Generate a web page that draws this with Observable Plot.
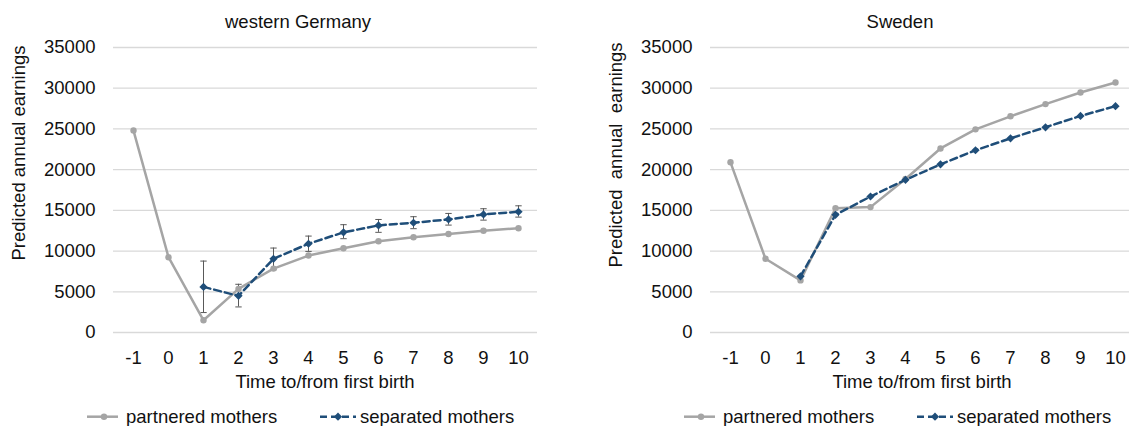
<!DOCTYPE html>
<html>
<head>
<meta charset="utf-8">
<script src="https://cdn.jsdelivr.net/npm/d3@7"></script>
<script src="https://cdn.jsdelivr.net/npm/@observablehq/plot@0.6"></script>
<style>
  html, body { margin: 0; padding: 0; background: #fff; }
  body { width: 1129px; height: 426px; overflow: hidden; position: relative;
         font-family: "Liberation Sans", Arial, sans-serif; }
  .panel { position: absolute; top: 0; width: 565px; height: 426px; }
  .panel > svg, .panel > figure { position: absolute; left: 0; top: 0; margin: 0; }
  #overlay { position: absolute; left: 0; top: 0; pointer-events: none; }
</style>
</head>
<body>
<div id="root"></div>
<script>
// ---------- data ----------
const years = [-1, 0, 1, 2, 3, 4, 5, 6, 7, 8, 9, 10];
const yTicks = [0, 5000, 10000, 15000, 20000, 25000, 30000, 35000];
const panelTitles = ["western Germany", "Sweden"];
const seriesNames = ["partnered mothers", "separated mothers"];
const yLabels = ["Predicted annual earnings", "Predicted  annual  earnings"];
const xLabel = "Time to/from first birth";

const germanyPartnered = [24800, 9250, 1500, 5350, 7850, 9450, 10350, 11200, 11700, 12100, 12500, 12800];
const germanySeparated = [null, null, 5600, 4500, 9050, 10900, 12300, 13150, 13480, 13880, 14500, 14830];
const germanySepLow    = [null, null, 2450, 3140, 7700, 9960, 11520, 12300, 12750, 13190, 13800, 14170];
const germanySepHigh   = [null, null, 8770, 5920, 10370, 11840, 13240, 13880, 14220, 14620, 15200, 15560];

const swedenPartnered = [20900, 9050, 6400, 15250, 15400, 18850, 22600, 24950, 26550, 28050, 29480, 30700];
const swedenSeparated = [null, null, 6900, 14450, 16700, 18750, 20650, 22380, 23850, 25200, 26600, 27800];

// ---------- style ----------
const FONT = '"Liberation Sans", Arial, sans-serif';
const GRAY = "#a5a5a5";
const BLUE = "#1f4e79";
const GRID = "#d9d9d9";
const ERR = "#595959";
const TXT = "#111";
const PANEL_X = [0, 597];
const DOT_R = 3.2, DIA_R = 3.7, LW = 2.5, DASH = "7,4";

// horizontal cap symbol for error bars
const capSymbol = { draw(ctx) { ctx.moveTo(-3.2, 0); ctx.lineTo(3.2, 0); } };

function makePanel(partnered, separated, lo, hi) {
  const rowsP = years.map((t, i) => ({t, v: partnered[i]}));
  const rowsS = years.map((t, i) => ({t, v: separated[i], lo: lo ? lo[i] : null, hi: hi ? hi[i] : null}))
                     .filter(d => d.v != null);
  const errRows = rowsS.filter(d => d.lo != null);
  return Plot.plot({
    width: 565, height: 426,
    marginTop: 47, marginBottom: 94, marginLeft: 113, marginRight: 28,
    style: {fontFamily: FONT, fontSize: "18.5px", color: TXT, background: "transparent", overflow: "visible"},
    x: {type: "point", domain: years, padding: 0.5, align: 0.5, label: null},
    y: {domain: [0, 35000], label: null},
    marks: [
      Plot.ruleY(yTicks, {stroke: GRID, strokeWidth: 1.3}),
      Plot.axisX({ticks: years, tickSize: 0, tickPadding: 18, label: null, fill: TXT}),
      Plot.axisY({ticks: yTicks, tickSize: 0, tickPadding: 18, label: null, fill: TXT, tickFormat: d => String(d)}),
      Plot.ruleX(errRows, {x: "t", y1: "lo", y2: "hi", stroke: ERR, strokeWidth: 1}),
      Plot.dot(errRows, {x: "t", y: "lo", symbol: capSymbol, stroke: ERR, fill: "none", strokeWidth: 1}),
      Plot.dot(errRows, {x: "t", y: "hi", symbol: capSymbol, stroke: ERR, fill: "none", strokeWidth: 1}),
      Plot.line(rowsP, {x: "t", y: "v", stroke: GRAY, strokeWidth: LW}),
      Plot.dot(rowsP, {x: "t", y: "v", r: DOT_R, fill: GRAY, stroke: null}),
      Plot.line(rowsS, {x: "t", y: "v", stroke: BLUE, strokeWidth: LW, strokeDasharray: DASH}),
      Plot.dot(rowsS, {x: "t", y: "v", symbol: "diamond2", r: DIA_R, fill: BLUE, stroke: null})
    ]
  });
}

const root = document.getElementById("root");
const panels = [
  makePanel(germanyPartnered, germanySeparated, germanySepLow, germanySepHigh),
  makePanel(swedenPartnered, swedenSeparated, null, null)
];
panels.forEach((p, i) => {
  const div = document.createElement("div");
  div.className = "panel";
  div.style.left = PANEL_X[i] + "px";
  div.appendChild(p);
  root.appendChild(div);
});

// ---------- titles, axis titles, legends ----------
const ov = d3.select("body").append("svg").attr("id", "overlay")
  .attr("width", 1129).attr("height", 426)
  .style("font-family", FONT).style("fill", TXT);

const titleCx = [298, 900];
const yLabCx = [19, 616];
const yLabCy = [153, 155];
const xLabCx = [325, 922];

PANEL_X.forEach((ox, i) => {
  ov.append("text").attr("x", titleCx[i]).attr("y", 28).attr("text-anchor", "middle")
    .style("font-size", "18.5px").style("white-space", "pre").text(panelTitles[i]);
  ov.append("text").attr("transform", `translate(${yLabCx[i]},${yLabCy[i]}) rotate(-90)`)
    .attr("text-anchor", "middle").attr("dy", "0.35em")
    .style("font-size", "18.5px").style("white-space", "pre").text(yLabels[i]);
  ov.append("text").attr("x", xLabCx[i]).attr("y", 388).attr("text-anchor", "middle")
    .style("font-size", "18.5px").text(xLabel);

  const ly = 416.7;
  ov.append("line").attr("x1", ox + 87).attr("x2", ox + 118).attr("y1", ly).attr("y2", ly)
    .attr("stroke", GRAY).attr("stroke-width", LW);
  ov.append("circle").attr("cx", ox + 104).attr("cy", ly).attr("r", DOT_R).attr("fill", GRAY);
  ov.append("text").attr("x", ox + 126).attr("y", 423).style("font-size", "18.5px").text(seriesNames[0]);
  ov.append("line").attr("x1", ox + 320).attr("x2", ox + 356).attr("y1", ly).attr("y2", ly)
    .attr("stroke", BLUE).attr("stroke-width", LW).attr("stroke-dasharray", DASH);
  ov.append("path").attr("transform", `translate(${ox + 338},${ly})`)
    .attr("d", d3.symbol(d3.symbolDiamond2, DIA_R * DIA_R * Math.PI)()).attr("fill", BLUE);
  ov.append("text").attr("x", ox + 360).attr("y", 423).style("font-size", "18.5px").text(seriesNames[1]);
});
</script>
</body>
</html>
